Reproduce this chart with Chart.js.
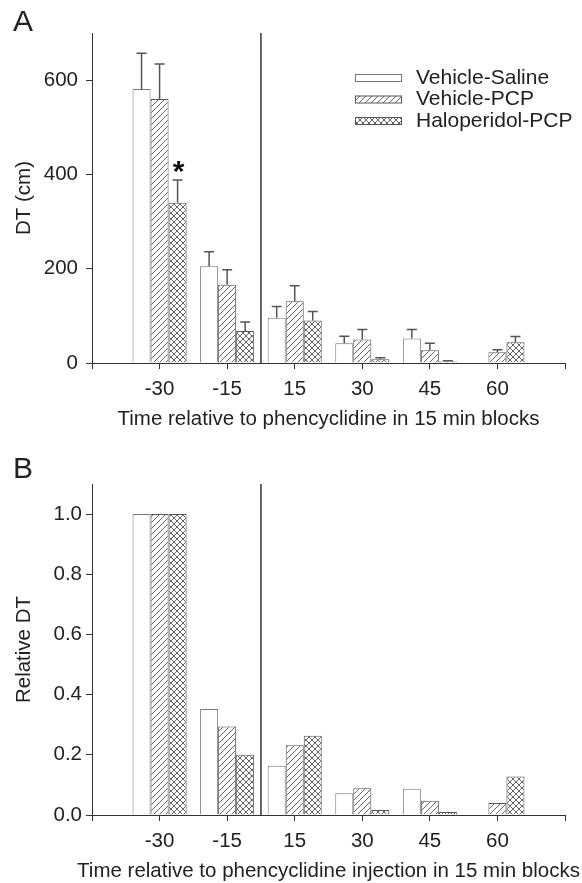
<!DOCTYPE html>
<html>
<head>
<meta charset="utf-8">
<script src="https://cdn.jsdelivr.net/npm/chart.js@4.4.0/dist/chart.umd.min.js"></script>
<style>
body { margin: 0; background: #fff; }
.box { position: absolute; left: 0; width: 582px; }
</style>
</head>
<body>
<div class="box" style="top:0;height:440px"><canvas id="chartA"></canvas></div>
<div class="box" style="top:440px;height:443px"><canvas id="chartB"></canvas></div>
<script>
// time blocks (min relative to PCP)
var blocks = ['-30', '-15', '15', '30', '45', '60'];
var groups = ['Vehicle-Saline', 'Vehicle-PCP', 'Haloperidol-PCP'];

// panel A - distance travelled (cm), mean and SEM
var salineDT = [581, 205, 96, 42, 52, null];
var pcpDT    = [560, 166, 131, 50, 27, 23];
var haloDT   = [340, 68, 90, 8, 3, 44];
var salineSem = [76, 31, 24, 15, 19, null];
var pcpSem    = [74, 32, 33, 21, 15, 5];
var haloSem   = [48, 19, 19, 3, 2, 12];
var haloStars = ['*', '', '', '', '', ''];

// panel B - DT relative to first block
var salineRel = [1.0, 0.352, 0.164, 0.072, 0.087, null];
var pcpRel    = [1.0, 0.294, 0.232, 0.089, 0.047, 0.040];
var haloRel   = [1.0, 0.200, 0.263, 0.017, 0.010, 0.128];

var ticksA = [0, 200, 400, 600];
var ticksB = [0, 0.2, 0.4, 0.6, 0.8, 1.0];

Chart.defaults.font.family = "'Liberation Sans', Arial, sans-serif";
Chart.defaults.font.size = 20.5;
Chart.defaults.color = '#222';

// empty slot at both ends of the axis
function pad(arr) { return [null].concat(arr).concat([null]); }
var labels = [''].concat(blocks).concat(['']);

function makePattern(cross) {
	var c = document.createElement('canvas');
	c.width = 6; c.height = 6;
	var g = c.getContext('2d');
	g.fillStyle = '#fff';
	g.fillRect(0, 0, 6, 6);
	g.strokeStyle = '#555';
	g.lineWidth = 0.9;
	g.beginPath();
	g.moveTo(-1, 7); g.lineTo(7, -1);
	if (cross) { g.moveTo(-1, -1); g.lineTo(7, 7); }
	g.stroke();
	return g.createPattern(c, 'repeat');
}
var fills = ['#ffffff', makePattern(false), makePattern(true)];
var borders = ['#777', '#555', '#555'];

function makeDatasets(series, sems, stars) {
	return series.map(function(s, i) {
		return {
			label: groups[i],
			data: pad(s),
			sem: sems ? pad(sems[i]) : null,
			stars: stars && stars[i] ? pad(stars[i]) : null,
			backgroundColor: fills[i],
			borderColor: borders[i],
			borderWidth: 1
		};
	});
}

var errorBars = {
	id: 'errorBars',
	afterDatasetsDraw: function(chart) {
		var ctx = chart.ctx, y = chart.scales.y;
		ctx.save();
		chart.data.datasets.forEach(function(ds, di) {
			if (!ds.sem) return;
			var meta = chart.getDatasetMeta(di);
			meta.data.forEach(function(bar, i) {
				if (ds.data[i] == null || ds.sem[i] == null) return;
				var top = y.getPixelForValue(ds.data[i] + ds.sem[i]);
				ctx.strokeStyle = '#555';
				ctx.lineWidth = 1.5;
				ctx.beginPath();
				ctx.moveTo(bar.x, bar.y);
				ctx.lineTo(bar.x, top);
				ctx.moveTo(bar.x - 5, top);
				ctx.lineTo(bar.x + 5, top);
				ctx.stroke();
				if (ds.stars && ds.stars[i]) {
					ctx.fillStyle = '#111';
					ctx.font = "bold 30px 'Liberation Sans', Arial";
					ctx.textAlign = 'center';
					ctx.textBaseline = 'alphabetic';
					ctx.fillText(ds.stars[i], bar.x + 1, top + 1);
				}
			});
		});
		ctx.restore();
	}
};

// line between the pre- and post-injection blocks, panel letter, legend
var decor = {
	id: 'decor',
	afterDraw: function(chart, args, opts) {
		var ctx = chart.ctx, xs = chart.scales.x, area = chart.chartArea;
		ctx.save();
		var xm = (xs.getPixelForTick(2) + xs.getPixelForTick(3)) / 2;
		ctx.strokeStyle = '#333';
		ctx.lineWidth = 1.5;
		ctx.beginPath();
		ctx.moveTo(xm, area.top);
		ctx.lineTo(xm, area.bottom);
		ctx.stroke();

		ctx.fillStyle = '#222';
		ctx.font = "30px 'Liberation Sans', Arial";
		ctx.textAlign = 'left';
		ctx.textBaseline = 'top';
		ctx.fillText(opts.letter, 13, opts.letterY);

		// long axis title, wider than the axis itself
		if (opts.wideTitle) {
			ctx.font = "20.5px 'Liberation Sans', Arial";
			ctx.textAlign = 'center';
			ctx.textBaseline = 'middle';
			ctx.fillText(opts.wideTitle, (area.left + area.right) / 2, chart.height - 12);
		}

		if (opts.legend) {
			ctx.font = "21px 'Liberation Sans', Arial";
			ctx.textAlign = 'left';
			ctx.textBaseline = 'middle';
			chart.data.datasets.forEach(function(ds, i) {
				var yy = 78 + i * 21.5;
				ctx.fillStyle = ds.backgroundColor;
				ctx.fillRect(355, yy - 3.5, 47, 7);
				ctx.strokeStyle = ds.borderColor;
				ctx.lineWidth = 1;
				ctx.strokeRect(355.5, yy - 3.5, 46, 7);
				ctx.fillStyle = '#222';
				ctx.fillText(ds.label, 416, yy);
			});
		}
		ctx.restore();
	}
};

function makeOptions(cfg) {
	return {
		responsive: true,
		maintainAspectRatio: false,
		animation: false,
		layout: { padding: { top: cfg.top, right: 17, left: 0, bottom: 0 } },
		datasets: { bar: { categoryPercentage: 0.8, barPercentage: 1.0 } },
		plugins: {
			legend: { display: false },
			tooltip: { enabled: false },
			decor: { letter: cfg.letter, letterY: cfg.letterY, legend: cfg.legend, wideTitle: cfg.wideTitle }
		},
		scales: {
			x: {
				type: 'category',
				offset: false,
				grid: { offset: false, drawOnChartArea: false, tickLength: 6, color: '#333', tickColor: '#333' },
				border: { color: '#333', width: 1 },
				ticks: { padding: 8, maxRotation: 0, autoSkip: false },
				title: { display: !!cfg.xTitle, text: cfg.xTitle || '', padding: { top: 0, bottom: cfg.xTitlePad } },
				afterFit: function(s) { s.height = cfg.xHeight; }
			},
			y: {
				min: 0,
				max: cfg.max,
				grid: { drawOnChartArea: false, tickLength: 6, color: '#333', tickColor: '#333' },
				border: { color: '#333', width: 1 },
				ticks: {
					padding: cfg.yPad,
					callback: function(v) { return cfg.fmt(v); }
				},
				afterBuildTicks: function(s) { s.ticks = cfg.ticks.map(function(v) { return { value: v }; }); },
				title: { display: true, text: cfg.yTitle, padding: { top: 12, bottom: 0 } },
				afterFit: function(s) { s.width = 92; }
			}
		}
	};
}

new Chart(document.getElementById('chartA'), {
	type: 'bar',
	data: { labels: labels, datasets: makeDatasets([salineDT, pcpDT, haloDT], [salineSem, pcpSem, haloSem], [null, null, haloStars]) },
	options: makeOptions({
		top: 33, max: 700, ticks: ticksA, fmt: function(v) { return String(v); },
		xTitle: 'Time relative to phencyclidine in 15 min blocks', xTitlePad: 8, xHeight: 77,
		yTitle: 'DT (cm)', yPad: 8, letter: 'A', letterY: 8, legend: true
	}),
	plugins: [errorBars, decor]
});

new Chart(document.getElementById('chartB'), {
	type: 'bar',
	data: { labels: labels, datasets: makeDatasets([salineRel, pcpRel, haloRel], null, null) },
	options: makeOptions({
		top: 44, max: 1.1, ticks: ticksB, fmt: function(v) { return v.toFixed(1); },
		wideTitle: 'Time relative to phencyclidine injection in 15 min blocks', xHeight: 68,
		yTitle: 'Relative DT', yPad: 4, letter: 'B', letterY: 15, legend: false
	}),
	plugins: [errorBars, decor]
});
</script>
</body>
</html>
